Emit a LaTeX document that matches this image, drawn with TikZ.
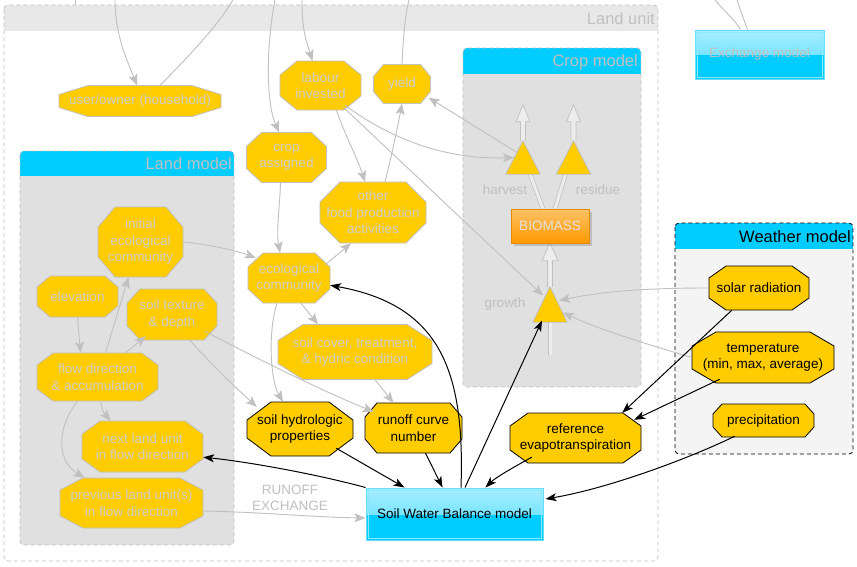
\documentclass[tikz,border=0pt]{standalone}
\usepackage{fontspec}
\setmainfont{Liberation Sans}
\usetikzlibrary{arrows.meta,calc,shadows}
\definecolor{yel}{HTML}{FFCC00}
\definecolor{lgray}{HTML}{C0C0C0}
\definecolor{ftxt}{HTML}{CFCFCF}
\definecolor{cyanb}{HTML}{00CCFF}
\definecolor{cyanl}{HTML}{A8EEFF}
\definecolor{cyanedge}{HTML}{66DDFF}
\definecolor{bodyg}{HTML}{E0E0E0}
\definecolor{headg}{HTML}{E8E8E8}
\definecolor{wbody}{HTML}{F4F4F4}
\definecolor{orng}{HTML}{FF9900}
\definecolor{orngl}{HTML}{FFC266}
\definecolor{hol}{HTML}{EDEDED}
\definecolor{biotxt}{HTML}{E2E2E2}

% name, x, y, w, h, xcut, ycut, style, text
\newcommand\myoct[9]{%
  \draw[#8] (#2-#4/2+#6,#3-#5/2) -- (#2+#4/2-#6,#3-#5/2) -- (#2+#4/2,#3-#5/2+#7)
    -- (#2+#4/2,#3+#5/2-#7) -- (#2+#4/2-#6,#3+#5/2) -- (#2-#4/2+#6,#3+#5/2)
    -- (#2-#4/2,#3+#5/2-#7) -- (#2-#4/2,#3-#5/2+#7) -- cycle;
  \node[#8txt, minimum width=#4pt, minimum height=#5pt] (#1) at (#2,#3) {#9};}

% x1 y1 x2 y2 yhead body head border
\newcommand\mypanel[8]{%
  \begin{scope}
    \clip[rounded corners=4pt] (#1,#2) rectangle (#3,#4);
    \fill[#6] (#1,#2) rectangle (#3,#4);
    \fill[#7] (#1,#2) rectangle (#3,#5);
  \end{scope}
  \draw[#8, line width=0.8pt, dash pattern=on 4pt off 3pt, rounded corners=4pt] (#1,#2) rectangle (#3,#4);}

\begin{document}
\begin{tikzpicture}[x=1pt,y=-1pt,
  every node/.style={font=\fontsize{13.5}{16.5}\selectfont, align=center, inner sep=0pt},
  octfade/.style={fill=yel, draw=lgray, line width=0.8pt},
  octfadetxt/.style={text=ftxt},
  octact/.style={fill=yel, draw=black, line width=0.8pt},
  octacttxt/.style={text=black},
  gline/.style={draw=lgray, line width=0.9pt, -{Stealth[length=11pt,width=9pt,inset=2.5pt]}},
  gplain/.style={draw=lgray, line width=0.9pt},
  bline/.style={draw=black, line width=1pt, -{Stealth[length=11pt,width=8pt,inset=3pt]}},
  title/.style={font=\fontsize{16.5}{19}\selectfont, anchor=east},
  holline/.style={draw=lgray, line width=0.7pt, double=hol, double distance=3pt},
  holarrow/.style={draw=lgray, fill=hol, line width=0.7pt},
  tri/.style={fill=yel, draw=lgray, line width=0.8pt},
  swbbox/.style={draw=cyanedge, line width=1pt, fill=cyanb,
    path picture={\fill[top color=cyanl, bottom color=cyanb!55!cyanl]
      (path picture bounding box.north west) rectangle (path picture bounding box.east);}},
  lbl/.style={text=lgray}
]
\useasboundingbox (0,0) rectangle (857,566);
\fill[white] (0,0) rectangle (857,566);

% containers
\mypanel{4}{5}{658}{561}{31}{white}{headg}{lgray}
\node[title, text=lgray] (tlu) at (655,19) {Land unit};
\mypanel{20}{151}{234}{545}{176}{bodyg}{cyanb}{lgray}
\node[title, text=lgray] (tlm) at (232,164) {Land model};
\mypanel{463}{48}{641}{387}{74}{bodyg}{cyanb}{lgray}
\node[title, text=lgray] (tcm) at (638,62) {Crop model};
\mypanel{675}{223}{853}{454}{249}{wbody}{cyanb}{black}
\node[title, text=black] (twm) at (851,237) {Weather model};

% crop model internals
\node[minimum width=34pt, minimum height=33pt] (harv) at (523,157.5) {};
\node[minimum width=34pt, minimum height=33pt] (res) at (573.5,157.5) {};
\node[minimum width=34pt, minimum height=35pt] (growth) at (550,304.5) {};
\node[minimum width=78pt, minimum height=34pt] (bio) at (550,226) {};
\coordinate (gtail) at (550,355);

\filldraw[holarrow] ($(harv.north)+(-2.5,0)$) -- ++(0,-19) -- ++(-4.5,0) -- ++(7,-17) -- ++(7,17) -- ++(-4.5,0) -- ++(0,19);
\filldraw[holarrow] ($(res.north)+(-2.5,0)$) -- ++(0,-19) -- ++(-4.5,0) -- ++(7,-17) -- ++(7,17) -- ++(-4.5,0) -- ++(0,19);
\filldraw[holarrow] ($(growth.north)+(-2.5,0)$) -- ++(0,-26) -- ++(-5.5,0) -- ++(8,-18) -- ++(8,18) -- ++(-5.5,0) -- ++(0,26);
\draw[holline] (growth.south) -- (gtail);
\draw[holline] ($(bio.north)+(-7,0)$) -- ($(harv.south)+(7,0)$);
\draw[holline] ($(bio.north)+(5,0)$) -- ($(res.south)+(-8,0)$);

\filldraw[tri] (harv.north) -- (harv.south east) -- (harv.south west) -- cycle;
\filldraw[tri] (res.north) -- (res.south east) -- (res.south west) -- cycle;
\filldraw[tri] (growth.north) -- (growth.south east) -- (growth.south west) -- cycle;

\node[minimum width=78pt, minimum height=34pt, text=biotxt, top color=orngl, bottom color=orng,
  draw=orng!90!black, line width=0.4pt,
  drop shadow={shadow xshift=3pt, shadow yshift=-3pt, opacity=0.35}] (biobox) at (bio) {BIOMASS};

\node[lbl] (lharv) at (505,190) {harvest};
\node[lbl] (lres) at (598,190) {residue};
\node[lbl] (lgrow) at (505,304) {growth};

% octagons
\myoct{house}{140}{101}{162}{31}{29}{9}{octfade}{user/owner (household)}
\myoct{lab}{320.5}{85.5}{81}{49}{17}{14}{octfade}{labour\\invested}
\myoct{yield}{402}{84}{57}{39}{10}{12}{octfade}{yield}
\myoct{crop}{286.5}{157.5}{80}{50}{15}{14}{octfade}{crop\\assigned}
\myoct{other}{373}{212.5}{106}{61}{20}{20}{octfade}{other\\food production\\activities}
\myoct{eco}{289}{278}{82}{50}{15}{14}{octfade}{ecological\\community}
\myoct{cover}{355}{352}{154}{55}{25}{16}{octfade}{soil cover, treatment,\\\& hydric condition}
\myoct{hydro}{300}{429}{106}{54}{24}{18}{octact}{soil hydrologic\\properties}
\myoct{runoff}{413.5}{428}{97}{50}{12}{14}{octact}{runoff curve\\number}
\myoct{refev}{575.5}{438}{131}{50}{18}{13}{octact}{reference\\evapotranspiration}
\myoct{init}{140.5}{242}{85}{70}{17}{20}{octfade}{initial\\ecological\\community}
\myoct{elev}{77.5}{296.5}{81}{41}{13}{11}{octfade}{elevation}
\myoct{tex}{172}{314.5}{90}{51}{13}{14}{octfade}{soil texture\\\& depth}
\myoct{flow}{97.5}{377}{121}{48}{16}{12}{octfade}{flow direction\\\& accumulation}
\myoct{next}{142.5}{446.5}{121}{51}{18}{13}{octfade}{next land unit\\in flow direction}
\myoct{prev}{131.5}{503}{143}{50}{23}{12}{octfade}{previous land unit(s)\\in flow direction}
\myoct{solar}{759}{288}{100}{44}{17}{12}{octact}{solar radiation}
\myoct{temp}{763}{357.5}{142}{51}{24}{14}{octact}{temperature\\(min, max, average)}
\myoct{precip}{763.5}{420.5}{101}{33}{9}{10}{octact}{precipitation}

% model boxes
\node[swbbox, minimum width=177pt, minimum height=52pt, text=black] (swb) at (454.5,514) {Soil Water Balance model};
\draw[white!55!cyanb, line width=0.6pt] ($(swb.north west)+(2.5,2.5)$) rectangle ($(swb.south east)+(-2.5,-2.5)$);
\node[swbbox, minimum width=129pt, minimum height=49pt, text=lgray] (exch) at (759.5,54.5) {Exchange model};
\draw[white!55!cyanb, line width=0.6pt] ($(exch.north west)+(2.5,2.5)$) rectangle ($(exch.south east)+(-2.5,-2.5)$);

% connectors from outside
\coordinate (t0a) at (75,0); \coordinate (t0b) at (75,5);
\coordinate (t1) at (115,0); \coordinate (t2) at (233,0); \coordinate (t3) at (275,0);
\coordinate (t4) at (302,0); \coordinate (t5) at (409,0); \coordinate (t6) at (715,0); \coordinate (t7) at (737,0);
\draw[gplain] (t0a) -- (t0b);
\draw[gline] (t1) .. controls (115,35) and (127,60) .. ($(house.north)+(-3,0)$);
\draw[gplain] ($(house.north)+(20,0)$) .. controls (180,65) and (215,30) .. (t2);
\draw[gline] (t3) .. controls (267,40) and (265,100) .. ($(crop.north)+(-7.5,0)$);
\draw[gline] (t4) .. controls (302,30) and (306,40) .. ($(lab.north)+(-8,0)$);
\draw[gplain] (yield.north) .. controls (403,40) and (405,15) .. (t5);
\draw[gplain] (t6) .. controls (725,12) and (735,20) .. ($(exch.north)+(-19,0)$);
\draw[gplain] (t7) .. controls (741,12) .. ($(exch.north)+(-12,0)$);

% gray connectors
\draw[gline] (elev.south) -- ($(flow.north)+(-17,0)$);
\draw[gline] ($(flow.north)+(8,0)$) -- ($(init.south)+(-12,0)$);
\draw[gline] ($(flow.north)+(28,0)$) -- ($(tex.south west)+(19,-4)$);
\draw[gline] ($(flow.south)+(3,0)$) .. controls (103,412) .. ($(next.north)+(-32,0)$);
\draw[gline] ($(flow.south)+(-20,0)$) .. controls (58,425) and (55,460) .. ($(prev.north)+(-47,0)$);
\draw[gline] (init.east) .. controls (215,245) and (240,252) .. ($(eco.north west)+(8,5)$);
\draw[gline] ($(crop.south)+(-6,0)$) .. controls (280,205) and (276,230) .. ($(eco.north)+(-9,0)$);
\draw[gline] ($(eco.north east)+(-5,12)$) -- ($(other.south)+(-22,0)$);
\draw[gline] ($(eco.south)+(12,0)$) -- ($(cover.north)+(-37,0)$);
\draw[gline] ($(eco.south)+(-12,0)$) .. controls (268,330) and (270,380) .. ($(hydro.north)+(-17,0)$);
\draw[gline] ($(tex.south)+(18,0)$) .. controls (198,350) and (225,378) .. ($(hydro.north west)+(10,5)$);
\draw[gline] ($(tex.east)+(-12,17)$) .. controls (250,355) and (320,390) .. ($(runoff.north west)+(9,9)$);
\draw[gline] ($(cover.south)+(20,0)$) -- ($(runoff.north)+(-20,0)$);
\draw[gline] ($(lab.south)+(16,0)$) .. controls (345,135) and (358,160) .. ($(other.north)+(-8,0)$);
\draw[gline] ($(other.north)+(12,0)$) .. controls (393,150) and (398,125) .. (yield.south);
\draw[gline] ($(lab.south east)+(-16,-5)$) .. controls (385,135) and (440,160) .. ($(harv)+(-9,0)$);
\draw[gline] ($(lab.south east)+(-18,-3)$) -- ($(growth)+(-7,-9)$);
\draw[gline] ($(harv)+(-6,-5)$) -- ($(yield.south east)+(-2,-6)$);
\draw[gline] ($(prev.east)+(0,8)$) .. controls (260,512) and (310,517) .. ($(swb.west)+(0,4)$);
\draw[gline] (solar.west) .. controls (640,288) and (600,292) .. ($(growth)+(9,-4)$);
\draw[gline] (temp.west) .. controls (650,345) and (600,330) .. ($(growth)+(13,8)$);
\node[lbl] (rex) at (290,498) {RUNOFF\\EXCHANGE};

% black connectors
\draw[bline] ($(swb.north)+(6.5,0)$) .. controls (465,370) and (440,305) .. (eco.-10);
\draw[bline] ($(swb.north)+(10.5,0)$) -- ($(growth)+(-8,16)$);
\draw[bline] ($(hydro.south east)+(-17,-8)$) -- ($(swb.north west)+(39,0)$);
\draw[bline] ($(runoff.south)+(12,0)$) -- ($(swb.north)+(-12,0)$);
\draw[bline] ($(refev.south west)+(22,-6)$) .. controls (512,468) and (495,478) .. ($(swb.north)+(31,0)$);
\draw[bline] ($(precip.south west)+(22,-1)$) .. controls (690,458) and (610,488) .. ($(swb.east)+(2,-15)$);
\draw[bline] ($(solar.south west)+(23,0)$) -- ($(refev.north east)+(-19,0)$);
\draw[bline] ($(temp.south west)+(28,-4)$) -- ($(refev.north east)+(-7,7)$);
\draw[bline] (swb.north west) .. controls (320,475) and (250,462) .. (next.-10);
\end{tikzpicture}
\end{document}
